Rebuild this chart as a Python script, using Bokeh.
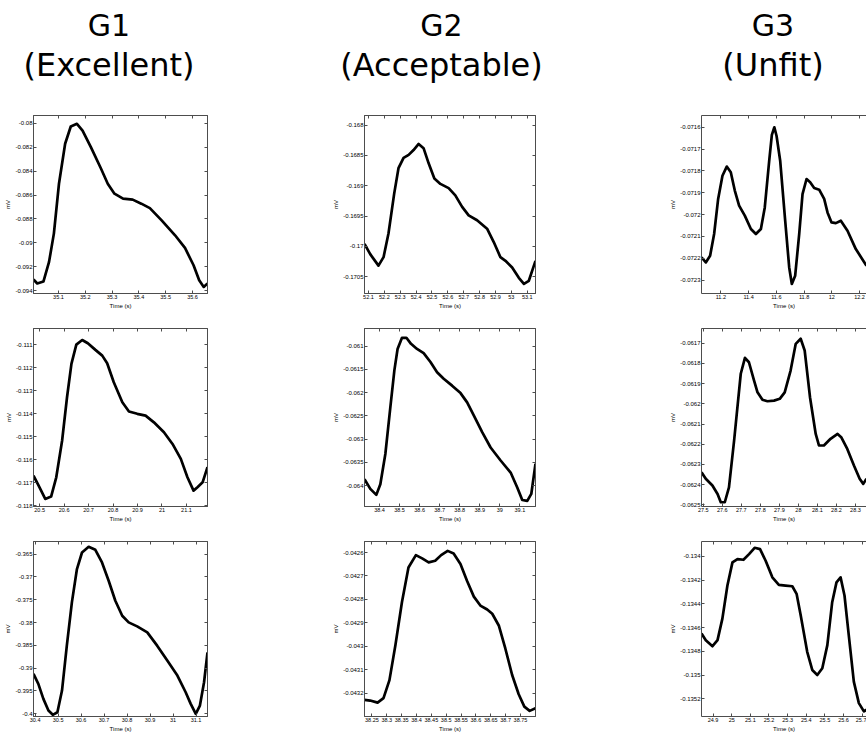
from bokeh.plotting import figure
from bokeh.layouts import column, row
from bokeh.models import (Range1d, FixedTicker, PrintfTickFormatter, LinearAxis,
                          CustomJSTickFormatter, ColumnDataSource)
from bokeh.core.properties import value
from bokeh.embed import file_html
from bokeh.resources import INLINE

# ---------------- titles ----------------
title_group = ["G1", "G2", "G3"]
title_grade = ["(Excellent)", "(Acceptable)", "(Unfit)"]

# ---------------- data (time in s, amplitude in mV) ----------------
# Row 1
g1r1_t = [35.007, 35.021, 35.044, 35.065, 35.083, 35.102, 35.125, 35.146, 35.169, 35.190,
          35.221, 35.259, 35.284, 35.309, 35.341, 35.377, 35.409, 35.441, 35.485, 35.535,
          35.572, 35.604, 35.625, 35.642, 35.656]
g1r1_mv = [-0.09308, -0.09341, -0.09325, -0.09160, -0.08923, -0.08505, -0.08170, -0.08025,
           -0.08003, -0.08059, -0.08198, -0.08379, -0.08505, -0.08588, -0.08630, -0.08638,
           -0.08672, -0.08709, -0.08812, -0.08937, -0.09043, -0.09188, -0.09314, -0.09370,
           -0.09341]
g1r1_xlim = [35.007, 35.656]
g1r1_ylim = [-0.09425, -0.07933]
g1r1_xticks = [35.1, 35.2, 35.3, 35.4, 35.5, 35.6]
g1r1_yticks = [-0.094, -0.092, -0.09, -0.088, -0.086, -0.084, -0.082, -0.08]

g2r1_t = [52.075, 52.111, 52.163, 52.195, 52.226, 52.262, 52.289, 52.321, 52.353, 52.384,
          52.416, 52.447, 52.479, 52.515, 52.553, 52.605, 52.647, 52.690, 52.731, 52.784,
          52.847, 52.889, 52.931, 52.963, 53.005, 53.047, 53.079, 53.110, 53.152]
g2r1_mv = [-0.16996, -0.17013, -0.17032, -0.17018, -0.16979, -0.16913, -0.16871, -0.16854,
           -0.16849, -0.16841, -0.16831, -0.16838, -0.16863, -0.16888, -0.16897, -0.16904,
           -0.16916, -0.16935, -0.16949, -0.16957, -0.16971, -0.16993, -0.17018, -0.17024,
           -0.17035, -0.17052, -0.17062, -0.17057, -0.17024]
g2r1_xlim = [52.075, 53.152]
g2r1_ylim = [-0.17078, -0.16784]
g2r1_xticks = [52.1, 52.2, 52.3, 52.4, 52.5, 52.6, 52.7, 52.8, 52.9, 53, 53.1]
g2r1_yticks = [-0.1705, -0.17, -0.1695, -0.169, -0.1685, -0.168]

g3r1_t = [11.061, 11.092, 11.123, 11.152, 11.181, 11.212, 11.243, 11.272, 11.301, 11.332,
          11.373, 11.417, 11.453, 11.489, 11.517, 11.549, 11.568, 11.586, 11.602, 11.628,
          11.662, 11.693, 11.712, 11.736, 11.765, 11.789, 11.818, 11.844, 11.873, 11.909,
          11.945, 11.969, 11.998, 12.029, 12.065, 12.113, 12.173, 12.250]
g3r1_mv = [-0.072196, -0.072219, -0.072189, -0.072089, -0.071928, -0.071822, -0.071780,
           -0.071806, -0.071890, -0.071959, -0.072005, -0.072066, -0.072089, -0.072066,
           -0.071967, -0.071753, -0.071635, -0.071600, -0.071640, -0.071753, -0.072013,
           -0.072242, -0.072318, -0.072280, -0.072089, -0.071906, -0.071837, -0.071852,
           -0.071878, -0.071886, -0.071928, -0.071990, -0.072036, -0.072039, -0.072028,
           -0.072074, -0.072158, -0.072234]
g3r1_xlim = [11.061, 12.250]
g3r1_ylim = [-0.0723615, -0.071546]
g3r1_xticks = [11.2, 11.4, 11.6, 11.8, 12, 12.2]
g3r1_yticks = [-0.0723, -0.0722, -0.0721, -0.072, -0.0719, -0.0718, -0.0717, -0.0716]

# Row 2
g1r2_t = [20.475, 20.496, 20.523, 20.547, 20.568, 20.592, 20.612, 20.630, 20.650, 20.674,
          20.697, 20.728, 20.756, 20.776, 20.803, 20.838, 20.865, 20.899, 20.933, 20.967,
          21.008, 21.043, 21.077, 21.104, 21.129, 21.145, 21.166, 21.186]
g1r2_mv = [-0.11670, -0.11713, -0.11771, -0.11761, -0.11677, -0.11517, -0.11329, -0.11184,
           -0.11100, -0.11080, -0.11094, -0.11123, -0.11148, -0.11181, -0.11264, -0.11351,
           -0.11391, -0.11401, -0.11409, -0.11438, -0.11481, -0.11532, -0.11597, -0.11677,
           -0.11735, -0.11720, -0.11699, -0.11633]
g1r2_xlim = [20.475, 21.186]
g1r2_ylim = [-0.11804, -0.1103]
g1r2_xticks = [20.5, 20.6, 20.7, 20.8, 20.9, 21, 21.1]
g1r2_yticks = [-0.118, -0.117, -0.116, -0.115, -0.114, -0.113, -0.112, -0.111]

g2r2_t = [38.325, 38.354, 38.384, 38.404, 38.429, 38.454, 38.474, 38.490, 38.512, 38.534,
          38.557, 38.587, 38.620, 38.654, 38.687, 38.720, 38.762, 38.804, 38.837, 38.870,
          38.912, 38.954, 39.004, 39.054, 39.087, 39.112, 39.137, 39.157, 39.178]
g2r2_mv = [-0.06386, -0.06407, -0.06420, -0.06397, -0.06332, -0.06231, -0.06152, -0.06106,
           -0.06082, -0.06082, -0.06095, -0.06106, -0.06115, -0.06134, -0.06156, -0.06170,
           -0.06185, -0.06201, -0.06221, -0.06249, -0.06285, -0.06318, -0.06346, -0.06372,
           -0.06404, -0.06431, -0.06433, -0.06418, -0.06353]
g2r2_xlim = [38.325, 39.178]
g2r2_ylim = [-0.06445, -0.06062]
g2r2_xticks = [38.4, 38.5, 38.6, 38.7, 38.8, 38.9, 39, 39.1]
g2r2_yticks = [-0.064, -0.0635, -0.063, -0.0625, -0.062, -0.0615, -0.061]

g3r2_t = [27.4906, 27.513, 27.548, 27.575, 27.592, 27.613, 27.635, 27.662, 27.697, 27.719,
          27.740, 27.767, 27.785, 27.811, 27.837, 27.872, 27.902, 27.928, 27.959, 27.986,
          28.012, 28.033, 28.061, 28.091, 28.108, 28.134, 28.169, 28.206, 28.225, 28.257,
          28.292, 28.322, 28.341, 28.358]
g3r2_mv = [-0.062339, -0.062371, -0.062404, -0.062446, -0.062487, -0.062487, -0.062413,
           -0.062182, -0.061851, -0.061772, -0.061794, -0.061885, -0.061943, -0.061980,
           -0.061987, -0.061984, -0.061975, -0.061943, -0.061835, -0.061703, -0.061678,
           -0.061736, -0.061967, -0.062149, -0.062206, -0.062206, -0.062173, -0.062149,
           -0.062165, -0.062223, -0.062305, -0.062371, -0.062396, -0.062371]
g3r2_xlim = [27.4906, 28.358]
g3r2_ylim = [-0.062508, -0.061627]
g3r2_xticks = [27.5, 27.6, 27.7, 27.8, 27.9, 28, 28.1, 28.2, 28.3]
g3r2_yticks = [-0.0625, -0.0624, -0.0623, -0.0622, -0.0621, -0.062, -0.0619, -0.0618, -0.0617]

# Row 3
g1r3_t = [30.393, 30.414, 30.436, 30.458, 30.477, 30.497, 30.517, 30.538, 30.560, 30.582,
          30.604, 30.633, 30.662, 30.691, 30.720, 30.749, 30.779, 30.807, 30.844, 30.888,
          30.931, 30.975, 31.019, 31.055, 31.077, 31.099, 31.117, 31.135, 31.150]
g1r3_mv = [-0.39125, -0.39344, -0.39672, -0.39928, -0.40022, -0.39965, -0.39491, -0.38506,
           -0.37559, -0.36828, -0.36465, -0.36340, -0.36406, -0.36684, -0.37084, -0.37522,
           -0.37850, -0.37996, -0.38084, -0.38215, -0.38506, -0.38834, -0.39162, -0.39528,
           -0.39782, -0.40000, -0.39819, -0.39309, -0.38653]
g1r3_xlim = [30.393, 31.150]
g1r3_ylim = [-0.40059, -0.36224]
g1r3_xticks = [30.4, 30.5, 30.6, 30.7, 30.8, 30.9, 31, 31.1]
g1r3_yticks = [-0.4, -0.395, -0.39, -0.385, -0.38, -0.375, -0.37, -0.365]

g2r3_t = [38.225, 38.244, 38.269, 38.289, 38.309, 38.329, 38.351, 38.373, 38.398, 38.419,
          38.441, 38.463, 38.483, 38.505, 38.525, 38.548, 38.570, 38.593, 38.615, 38.638,
          38.655, 38.677, 38.699, 38.722, 38.744, 38.763, 38.781, 38.8006]
g2r3_mv = [-0.043228, -0.043231, -0.043240, -0.043221, -0.043144, -0.042995, -0.042812,
           -0.042664, -0.042611, -0.042625, -0.042642, -0.042635, -0.042611, -0.042593,
           -0.042604, -0.042649, -0.042720, -0.042788, -0.042826, -0.042843, -0.042861,
           -0.042911, -0.043009, -0.043122, -0.043204, -0.043257, -0.043275, -0.043264]
g2r3_xlim = [38.225, 38.8006]
g2r3_ylim = [-0.043299, -0.042553]
g2r3_xticks = [38.25, 38.3, 38.35, 38.4, 38.45, 38.5, 38.55, 38.6, 38.65, 38.7, 38.75]
g2r3_yticks = [-0.0432, -0.0431, -0.043, -0.0429, -0.0428, -0.0427, -0.0426]

g3r3_t = [24.838, 24.861, 24.897, 24.924, 24.950, 24.977, 25.004, 25.031, 25.063, 25.093,
          25.123, 25.152, 25.182, 25.218, 25.253, 25.289, 25.325, 25.348, 25.370, 25.405,
          25.432, 25.459, 25.486, 25.513, 25.539, 25.562, 25.584, 25.605, 25.628, 25.655,
          25.682, 25.709, 25.723]
g3r3_mv = [-0.134649, -0.134705, -0.134756, -0.134705, -0.134524, -0.134245, -0.134050,
           -0.134022, -0.134028, -0.133980, -0.133927, -0.133938, -0.134036, -0.134176,
           -0.134239, -0.134245, -0.134251, -0.134315, -0.134496, -0.134803, -0.134956,
           -0.134998, -0.134942, -0.134747, -0.134385, -0.134218, -0.134176, -0.134329,
           -0.134664, -0.135054, -0.135235, -0.135305, -0.135291]
g3r3_xlim = [24.838, 25.723]
g3r3_ylim = [-0.135348, -0.133874]
g3r3_xticks = [24.9, 25, 25.1, 25.2, 25.3, 25.4, 25.5, 25.6, 25.7]
g3r3_yticks = [-0.1352, -0.135, -0.1348, -0.1346, -0.1344, -0.1342, -0.134]

x_label = "Time (s)"
y_label = "mV"

# ---------------- layout constants (page has no margin) ----------------
COL_W = [298, 338, 230]
COL_BL = [33, 66, 65]
COL_BR = [91, 101, 0]
ROW_H = [213, 213, 209]
ROW_BT = [15, 15, 15]
ROW_BB = [20, 20, 19]
TITLE_H = 100
TITLE_X = [108.5, 441, 772.5]
TITLE_BASELINE = [25, 64]          # pixels from top of the title strip
TITLE_SIZE = ["30px", "32px"]

SMALL_FONT = "Liberation Sans"
YTICK_SIZE = "6px"
XTICK_SIZE = "5.5px"
AXLABEL_SIZE = "6px"
FRAME_COLOR = "#4d4d4d"
LABEL_COLOR = "#000000"

panels = [
    [(g1r1_t, g1r1_mv, g1r1_xlim, g1r1_ylim, g1r1_xticks, g1r1_yticks),
     (g2r1_t, g2r1_mv, g2r1_xlim, g2r1_ylim, g2r1_xticks, g2r1_yticks),
     (g3r1_t, g3r1_mv, g3r1_xlim, g3r1_ylim, g3r1_xticks, g3r1_yticks)],
    [(g1r2_t, g1r2_mv, g1r2_xlim, g1r2_ylim, g1r2_xticks, g1r2_yticks),
     (g2r2_t, g2r2_mv, g2r2_xlim, g2r2_ylim, g2r2_xticks, g2r2_yticks),
     (g3r2_t, g3r2_mv, g3r2_xlim, g3r2_ylim, g3r2_xticks, g3r2_yticks)],
    [(g1r3_t, g1r3_mv, g1r3_xlim, g1r3_ylim, g1r3_xticks, g1r3_yticks),
     (g2r3_t, g2r3_mv, g2r3_xlim, g2r3_ylim, g2r3_xticks, g2r3_yticks),
     (g3r3_t, g3r3_mv, g3r3_xlim, g3r3_ylim, g3r3_xticks, g3r3_yticks)],
]


def style_axis(ax, ticks, show_labels, size):
    ax.ticker = FixedTicker(ticks=ticks)
    ax.major_tick_in = 3
    ax.major_tick_out = 0
    ax.minor_tick_line_color = None
    ax.major_tick_line_color = FRAME_COLOR
    ax.axis_line_color = FRAME_COLOR
    ax.major_label_text_font = SMALL_FONT
    ax.major_label_text_font_size = size
    ax.major_label_text_color = LABEL_COLOR
    ax.major_label_standoff = 1
    if show_labels:
        ax.formatter = PrintfTickFormatter(format="%g")
    else:
        ax.formatter = CustomJSTickFormatter(code="return ''")
        ax.major_label_standoff = 0


def make_panel(r, c, t, mv, xlim, ylim, xticks, yticks):
    p = figure(width=COL_W[c], height=ROW_H[r],
               x_range=Range1d(*xlim), y_range=Range1d(*ylim),
               output_backend="svg", toolbar_location=None,
               min_border_left=COL_BL[c], min_border_right=COL_BR[c],
               min_border_top=ROW_BT[r], min_border_bottom=ROW_BB[r])
    p.grid.visible = False
    p.background_fill_color = "white"
    p.border_fill_color = "white"
    p.outline_line_color = FRAME_COLOR if c < 2 else None
    p.line(t, mv, line_color="black", line_width=2.7, line_join="round")

    style_axis(p.xaxis[0], xticks, True, XTICK_SIZE)
    style_axis(p.yaxis[0], yticks, True, YTICK_SIZE)
    for ax, lab in ((p.xaxis[0], x_label), (p.yaxis[0], y_label)):
        ax.axis_label = lab
        ax.axis_label_text_font = SMALL_FONT
        ax.axis_label_text_font_size = AXLABEL_SIZE
        ax.axis_label_text_font_style = "normal"
        ax.axis_label_text_color = LABEL_COLOR
        ax.axis_label_standoff = 1

    top = LinearAxis()
    style_axis(top, xticks, False, XTICK_SIZE)
    p.add_layout(top, "above")
    if c < 2:
        right = LinearAxis()
        style_axis(right, yticks, False, YTICK_SIZE)
        p.add_layout(right, "right")
    return p


title_fig = figure(width=sum(COL_W), height=TITLE_H, title=None,
                   x_range=Range1d(0, sum(COL_W)), y_range=Range1d(TITLE_H, 0),
                   output_backend="svg", toolbar_location=None,
                   x_axis_type=None, y_axis_type=None, min_border=0)
title_fig.grid.visible = False
title_fig.outline_line_color = None
for line_text, base, size in ((title_group, TITLE_BASELINE[0], TITLE_SIZE[0]),
                              (title_grade, TITLE_BASELINE[1], TITLE_SIZE[1])):
    src = ColumnDataSource(dict(x=TITLE_X, y=[base] * 3, text=line_text))
    title_fig.text("x", "y", "text", source=src,
                   text_font=value("DejaVu Sans"), text_font_size=size,
                   text_align="center", text_baseline="alphabetic", text_color="black")

rows = []
for r in range(3):
    rows.append(row(*[make_panel(r, c, *panels[r][c]) for c in range(3)]))

layout = column(title_fig, *rows)

open("out.html", "w").write(file_html(layout, INLINE))
